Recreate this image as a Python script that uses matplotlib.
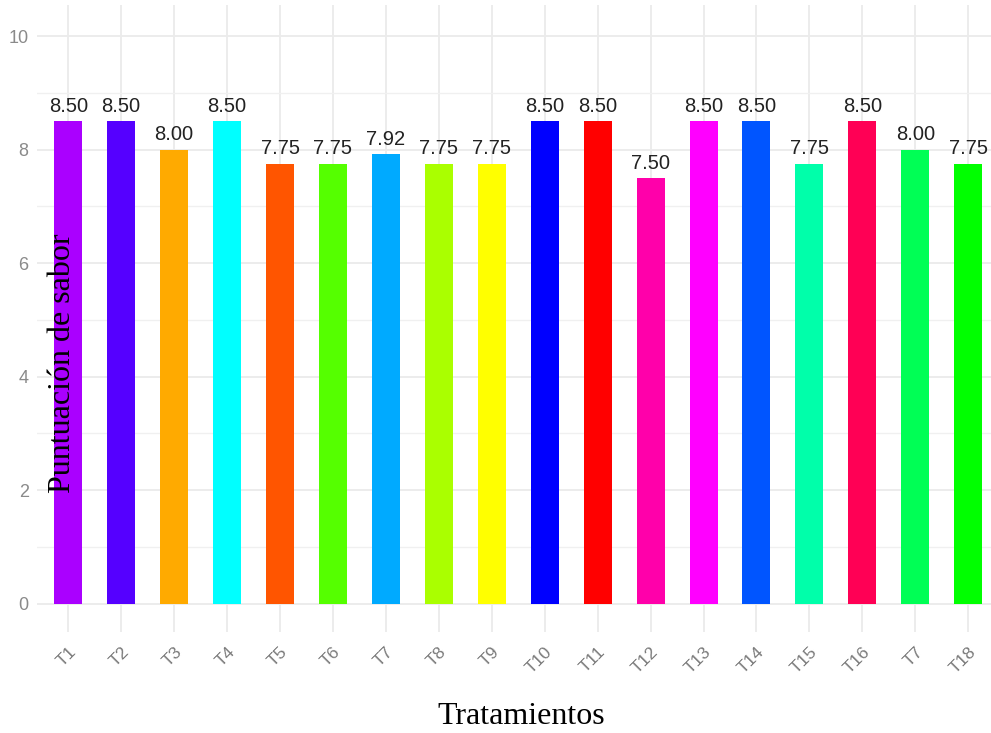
import matplotlib.pyplot as plt
import numpy as np

# Puntuación de sabor por tratamiento
tratamientos = ["T1", "T2", "T3", "T4", "T5", "T6", "T7", "T8", "T9",
                "T10", "T11", "T12", "T13", "T14", "T15", "T16", "T7", "T18"]
puntuacion = [8.50, 8.50, 8.00, 8.50, 7.75, 7.75, 7.92, 7.75, 7.75,
              8.50, 8.50, 7.50, 8.50, 8.50, 7.75, 8.50, 8.00, 7.75]
colores = ["#AA00FF", "#5500FF", "#FFAA00", "#00FFFF", "#FF5500", "#55FF00",
           "#00AAFF", "#AAFF00", "#FFFF00", "#0000FF", "#FF0000", "#FF00AA",
           "#FF00FF", "#0055FF", "#00FFAA", "#FF0055", "#00FF55", "#00FF00"]

fuente_num = "Liberation Sans"

fig = plt.figure(figsize=(9.91, 7.33), dpi=100)
ax = fig.add_axes([37 / 991, 101 / 733, 954 / 991, 627 / 733])

x = np.arange(1, len(puntuacion) + 1)
ax.bar(x, puntuacion, width=0.53, color=colores, zorder=3)

for xi, v in zip(x, puntuacion):
    ax.annotate(f"{v:.2f}", (xi, v), xytext=(0, 4), textcoords="offset points",
                ha="center", va="bottom", fontsize=14.5, family=fuente_num,
                color="#222222", zorder=4)

ax.set_xlim(0.41, 18.43)
ax.set_ylim(-0.5, 10.55)
ax.set_yticks([0, 2, 4, 6, 8, 10])
ax.set_yticks([1, 3, 5, 7, 9], minor=True)
ax.set_xticks(x)
ax.set_xticklabels(tratamientos, rotation=45, ha="right", rotation_mode="anchor",
                   fontsize=12.5, family=fuente_num, color="#7a7a7a")
for t in ax.get_yticklabels():
    t.set_fontsize(13)
    t.set_family(fuente_num)
    t.set_color("#8a8a8a")

ax.grid(True, which="major", color="#ebebeb", linewidth=1.3, zorder=0)
ax.grid(True, which="minor", axis="y", color="#f0f0f0", linewidth=1.0, zorder=0)
ax.tick_params(which="both", length=0, pad=6)
ax.tick_params(axis="x", pad=9)
for s in ax.spines.values():
    s.set_visible(False)

fig.text(62 / 991, 1 - 363 / 733, "Puntuación de sabor", rotation=90,
         ha="center", va="center", fontsize=23, family="Liberation Serif",
         color="black", zorder=10)
fig.text(521 / 991, 1 - 717 / 733, "Tratamientos", ha="center", va="center",
         fontsize=23, family="Liberation Serif", color="black")

fig.savefig("out.png", dpi=100)
